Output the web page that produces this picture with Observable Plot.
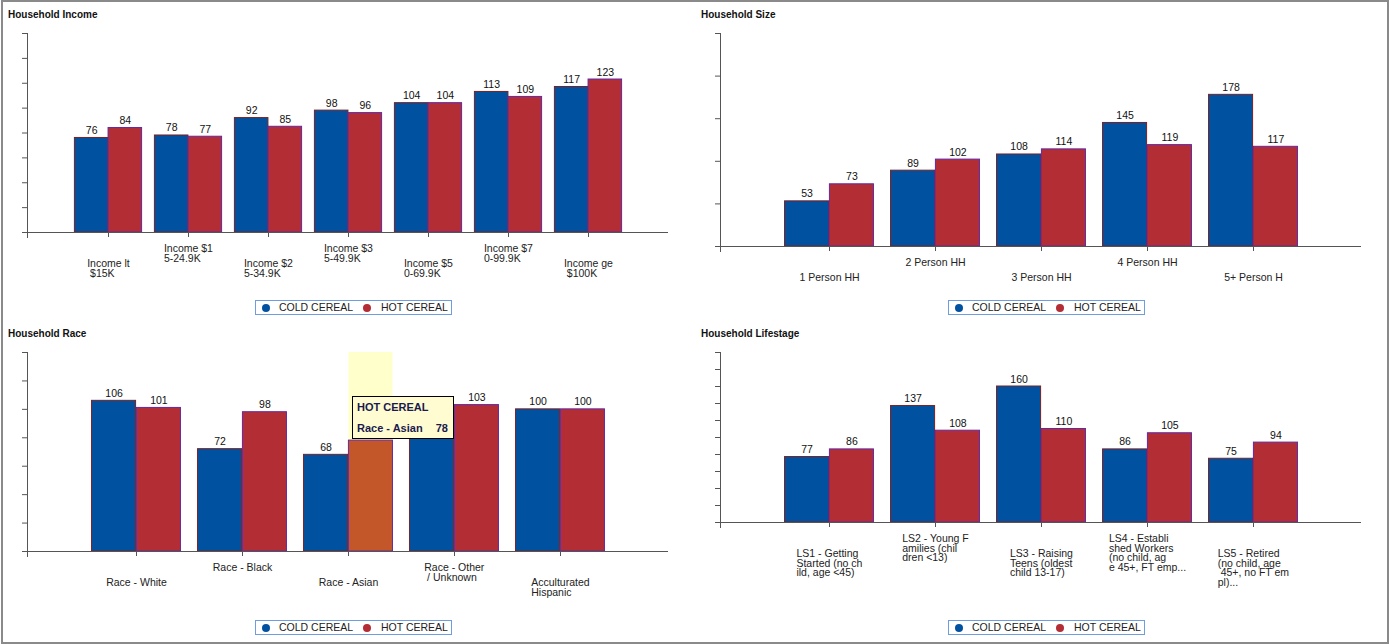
<!DOCTYPE html>
<html><head><meta charset="utf-8">
<script src="https://cdn.jsdelivr.net/npm/d3@7"></script>
<script src="https://cdn.jsdelivr.net/npm/@observablehq/plot@0.6"></script>
<style>
body{margin:0;background:#fff;font-family:"Liberation Sans",Arial,sans-serif;}
#page{position:relative;width:1389px;height:644px;overflow:hidden;background:#fff;}
#border{position:absolute;left:1px;top:0;width:1384px;height:640px;border:2px solid #8a8a8a;pointer-events:none;}
.panel{position:absolute;}
.title{position:absolute;font-weight:bold;font-size:10px;line-height:12px;color:#111;}
.legend{position:absolute;width:195px;height:13px;border:1px solid #6e9ee0;background:#fff;font-size:10.5px;line-height:13px;color:#222;}
.legend .dot{position:absolute;top:2.5px;width:8px;height:8px;border-radius:50%;}
.legend .lab{position:absolute;top:0;white-space:nowrap;}
#tip{position:absolute;left:352px;top:396px;width:100px;height:41px;border:1px solid #000;background:#fffcd2;color:#1a1a4e;font-weight:bold;font-size:11px;line-height:13px;}
#tip div{position:absolute;white-space:nowrap;}
</style>
</head><body>
<div id="page"><div id="border"></div></div>
<script>
// ---------- data ----------
const seriesNames = ["COLD CEREAL", "HOT CEREAL"];

const incomeCats = ["Income lt\n $15K", "Income $1\n5-24.9K", "Income $2\n5-34.9K", "Income $3\n5-49.9K", "Income $5\n0-69.9K", "Income $7\n0-99.9K", "Income ge\n $100K"];
const incomeCold = [76, 78, 92, 98, 104, 113, 117];
const incomeHot  = [84, 77, 85, 96, 104, 109, 123];

const sizeCats = ["1 Person HH", "2 Person HH", "3 Person HH", "4 Person HH", "5+ Person H"];
const sizeCold = [53, 89, 108, 145, 178];
const sizeHot  = [73, 102, 114, 119, 117];

const raceCats = ["Race - White", "Race - Black", "Race - Asian", "Race - Other\n / Unknown", "Acculturated\nHispanic"];
const raceCold = [106, 72, 68, 95, 100]; // "Race - Other" cold value is hidden by the tooltip: estimated
const raceHot  = [101, 98, 78, 103, 100];
const raceHighlight = 2; // hovered: HOT CEREAL, Race - Asian

const lifeCats = ["LS1 - Getting\nStarted (no ch\nild, age <45)", "LS2 - Young F\namilies (chil\ndren <13)", "LS3 - Raising\nTeens (oldest\nchild 13-17)", "LS4 - Establi\nshed Workers\n(no child, ag\ne 45+, FT emp...", "LS5 - Retired\n(no child, age\n 45+, no FT em\npl)..."];
const lifeCold = [77, 137, 160, 86, 75];
const lifeHot  = [86, 108, 110, 105, 94];

// ---------- style ----------
const BLUE = "#0052a1", BLUE_STROKE = "#7a2020";
const RED = "#b32d34", RED_STROKE = "#6228a6";
const ORANGE = "#c4572a", HILITE = "#ffffcc";
const AXIS = "#555";

const page = document.getElementById("page");

function addPanel({title, cats, cold, hot, yMax, yStep, left, top, frameH, highlight, legendLeft, legendTop}) {
  const W = 694, mL = 27, mR = 26, mT = 33, mB = 80;
  const bw = (W - mL - mR) / (cats.length + 1);
  const rows = cats.map((c, i) => ({cat: c, cold: cold[i], hot: hot[i], i}));
  const even = cats.filter((_, i) => i % 2 === 0);
  const odd = cats.filter((_, i) => i % 2 === 1);
  const marks = [];
  if (highlight != null) {
    marks.push(Plot.barY([rows[highlight]], {x: "cat", y1: 0, y2: yMax, fill: HILITE, insetLeft: bw * 0.5, insetRight: bw * 0.08}));
  }
  marks.push(
    Plot.barY(rows, {x: "cat", y: "cold", fill: BLUE, stroke: BLUE_STROKE, strokeWidth: 1, insetLeft: bw * 0.08, insetRight: bw * 0.5}),
    Plot.barY(rows, {x: "cat", y: "hot", fill: d => d.i === highlight ? ORANGE : RED, stroke: RED_STROKE, strokeWidth: 1, insetLeft: bw * 0.5, insetRight: bw * 0.08}),
    Plot.text(rows, {x: "cat", y: "cold", text: d => String(d.cold), dx: -bw * 0.21, dy: -4, lineAnchor: "bottom", fill: "#111"}),
    Plot.text(rows.filter(d => d.i !== highlight), {x: "cat", y: "hot", text: d => String(d.hot), dx: bw * 0.21, dy: -4, lineAnchor: "bottom", fill: "#111"}),
    Plot.ruleY([0], {stroke: AXIS}),
    Plot.frame({anchor: "left", stroke: AXIS, insetBottom: -5}),
    Plot.axisY(d3.range(0, yMax + 1, yStep), {tickSize: 5, tickFormat: () => "", stroke: AXIS}),
    Plot.axisX(even, {tickSize: 5, tickPadding: 23, stroke: AXIS, fill: "#222", lineHeight: 0.9}),
    Plot.axisX(odd, {tickSize: 5, tickPadding: 8, stroke: AXIS, fill: "#222", lineHeight: 0.9})
  );
  const chart = Plot.plot({
    width: W, height: mT + frameH + mB,
    marginLeft: mL, marginRight: mR, marginTop: mT, marginBottom: mB,
    x: {type: "band", domain: cats, paddingInner: 0, paddingOuter: 0.5, label: null},
    y: {domain: [0, yMax], label: null},
    style: {fontFamily: '"Liberation Sans", Arial, sans-serif', fontSize: "10.5px", color: "#222", background: "transparent", overflow: "visible"},
    marks
  });
  const wrap = document.createElement("div");
  wrap.className = "panel";
  wrap.style.left = left + "px";
  wrap.style.top = top + "px";
  wrap.appendChild(chart);
  page.appendChild(wrap);

  // left-align multi-line tick labels inside a centred block
  chart.querySelectorAll('g[aria-label="x-axis tick label"] text').forEach(t => {
    t.style.whiteSpace = "pre";
    const w = t.getBBox().width;
    const spans = t.querySelectorAll("tspan");
    if (spans.length > 1) {
      t.setAttribute("text-anchor", "start");
      spans.forEach(s => s.setAttribute("x", -w / 2));
    }
  });

  const ttl = document.createElement("div");
  ttl.className = "title";
  ttl.style.left = (left + 8) + "px";
  ttl.style.top = (top + 9) + "px";
  ttl.textContent = title;
  page.appendChild(ttl);

  const lg = document.createElement("div");
  lg.className = "legend";
  lg.style.left = legendLeft + "px";
  lg.style.top = legendTop + "px";
  lg.innerHTML =
    `<span class="dot" style="left:6px;background:${BLUE}"></span><span class="lab" style="left:23px">${seriesNames[0]}</span>` +
    `<span class="dot" style="left:107px;background:${RED}"></span><span class="lab" style="left:125px">${seriesNames[1]}</span>`;
  page.appendChild(lg);
}

addPanel({title: "Household Income", cats: incomeCats, cold: incomeCold, hot: incomeHot, yMax: 160, yStep: 20, left: 0, top: 0, frameH: 199, legendLeft: 255, legendTop: 300});
addPanel({title: "Household Size", cats: sizeCats, cold: sizeCold, hot: sizeHot, yMax: 250, yStep: 50, left: 693, top: 0, frameH: 213, legendLeft: 948, legendTop: 300});
addPanel({title: "Household Race", cats: raceCats, cold: raceCold, hot: raceHot, yMax: 140, yStep: 20, left: 0, top: 319, frameH: 199, highlight: raceHighlight, legendLeft: 255, legendTop: 620});
addPanel({title: "Household Lifestage", cats: lifeCats, cold: lifeCold, hot: lifeHot, yMax: 200, yStep: 20, left: 693, top: 319, frameH: 170, legendLeft: 948, legendTop: 620});

// tooltip for the hovered bar
const tip = document.createElement("div");
tip.id = "tip";
tip.innerHTML = `<div style="left:4px;top:4px">${seriesNames[1]}</div>` +
  `<div style="left:4px;top:25px">${raceCats[raceHighlight]}</div>` +
  `<div style="right:5px;top:25px">${raceHot[raceHighlight]}</div>`;
page.appendChild(tip);
page.appendChild(document.getElementById("border"));
</script>
</body></html>
